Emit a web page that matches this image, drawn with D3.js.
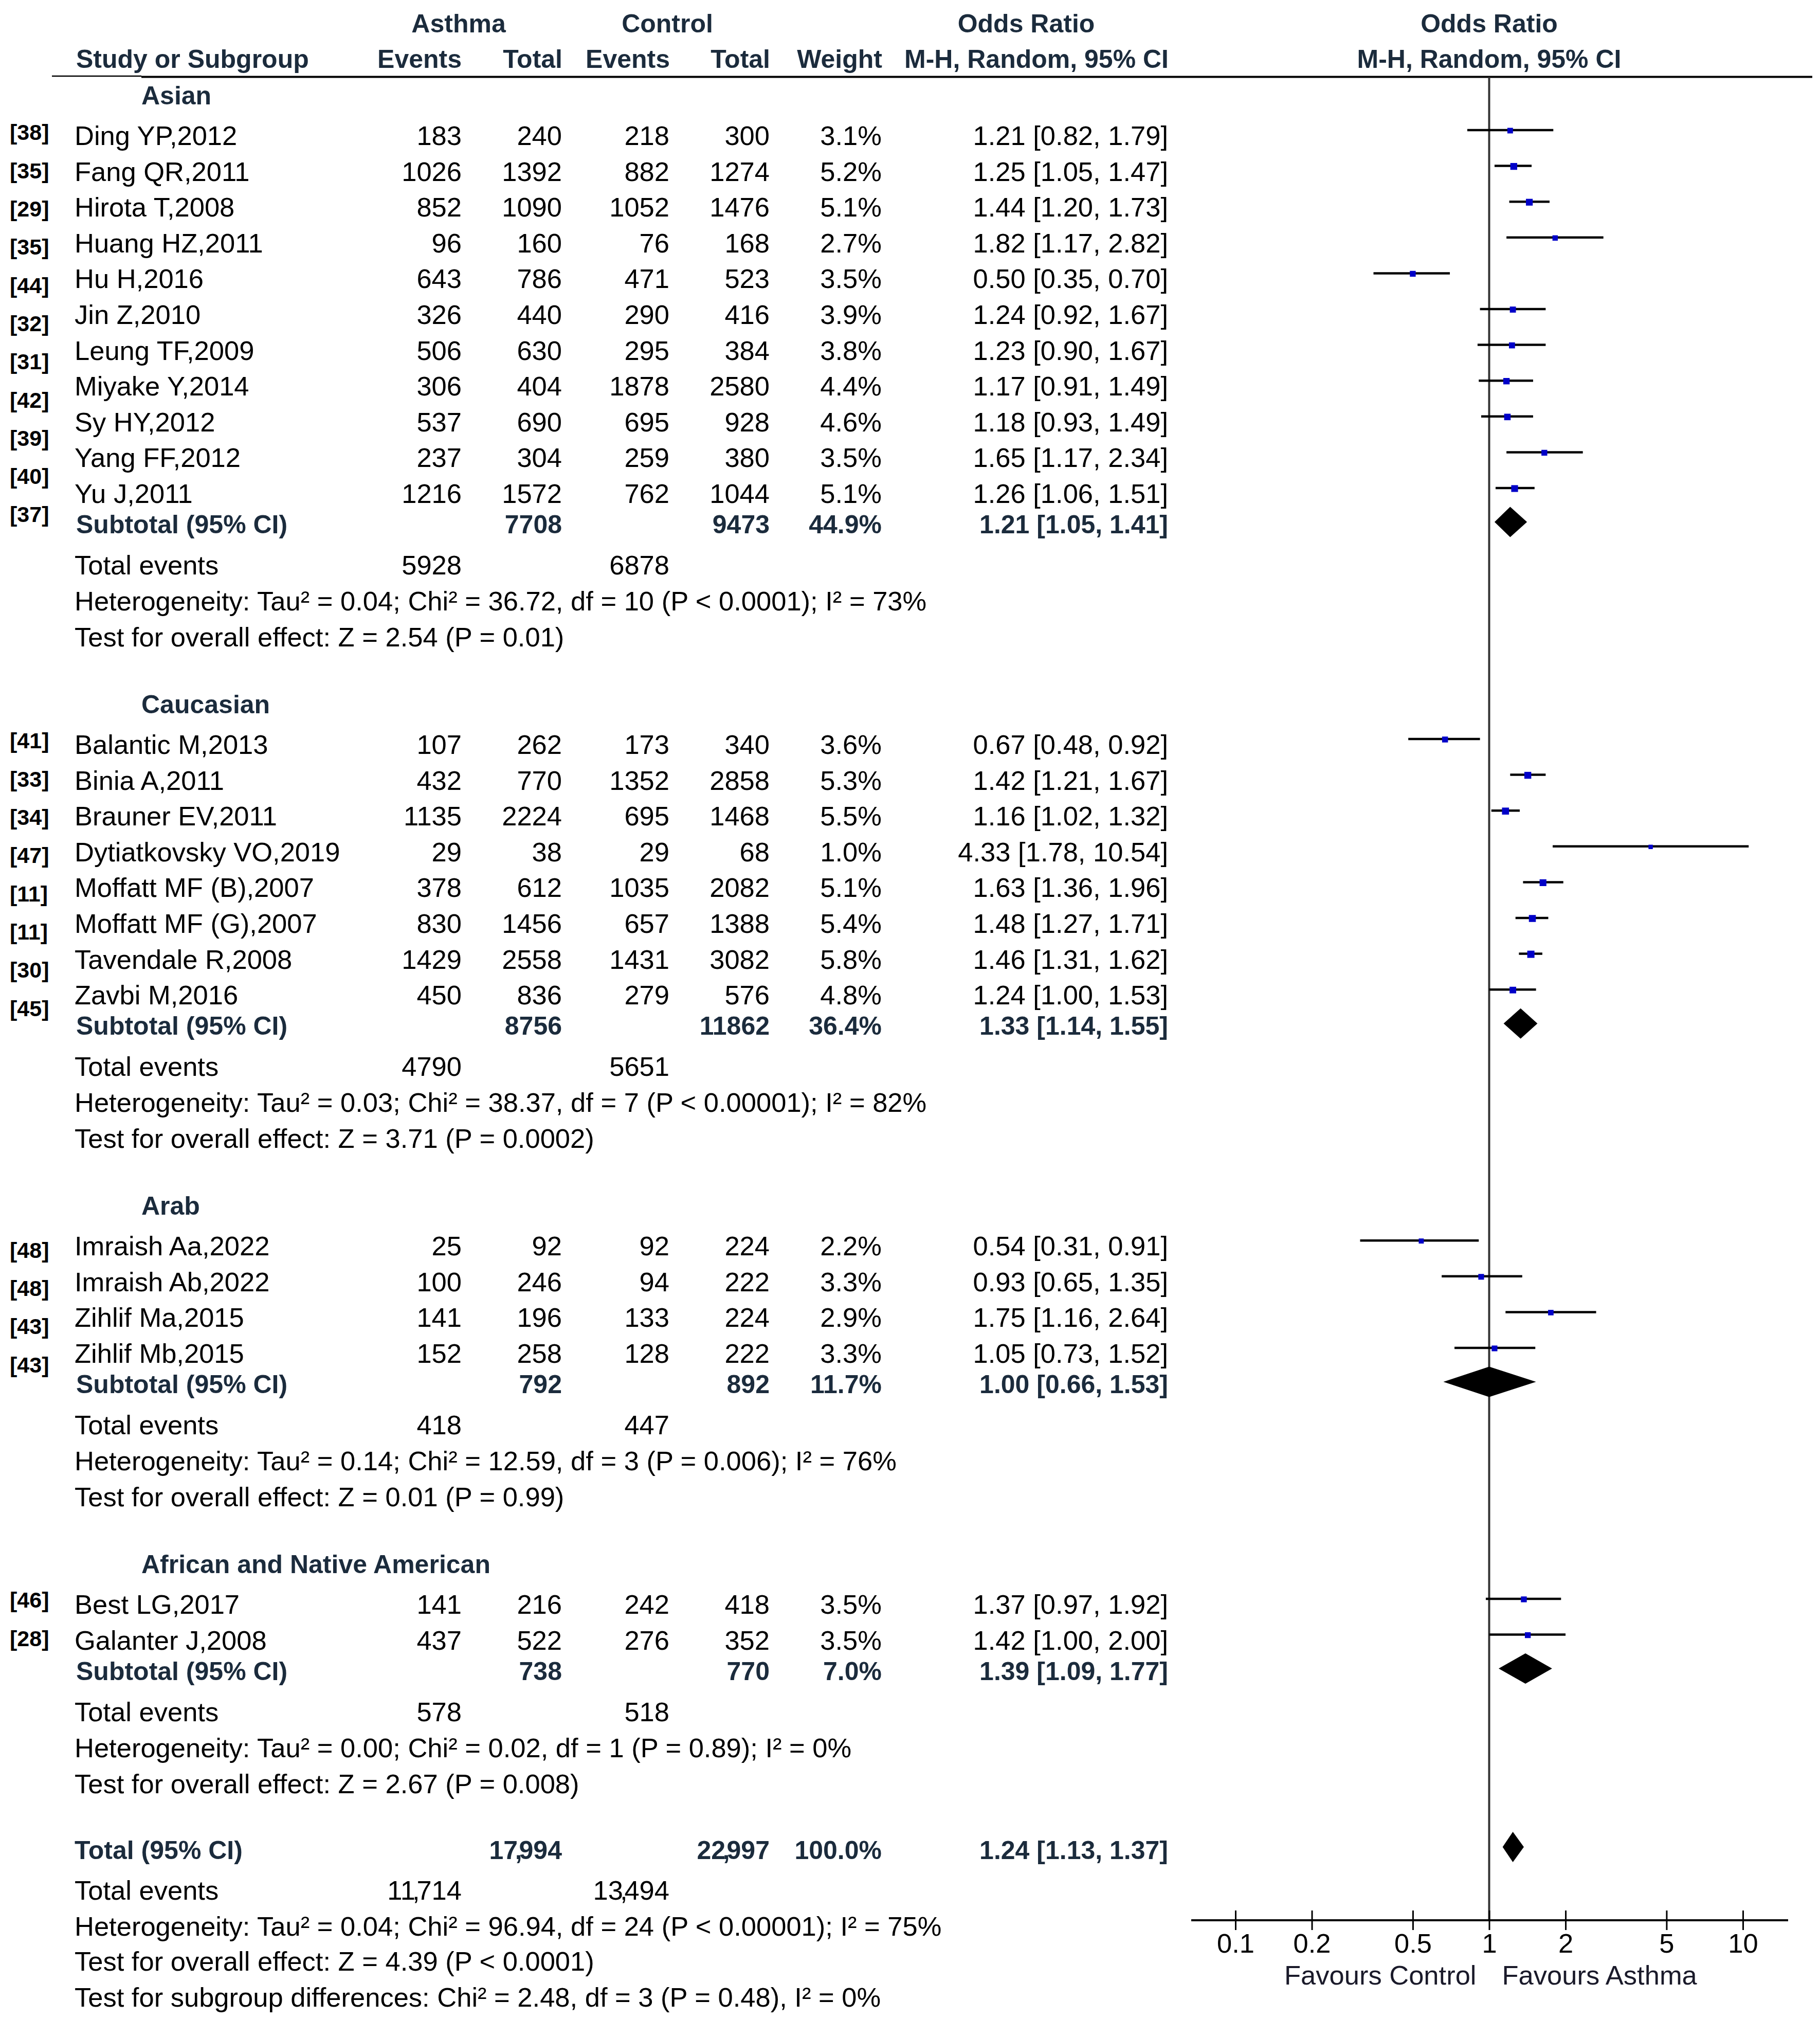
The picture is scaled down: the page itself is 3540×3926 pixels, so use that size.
<!DOCTYPE html>
<html><head><meta charset="utf-8">
<script src="https://cdn.jsdelivr.net/npm/d3@7/dist/d3.min.js"></script>
<style>
body{margin:0;background:#fff}
svg{display:block}
text{font-family:"Liberation Sans",Arial,Helvetica,sans-serif}
</style>
</head><body><div id="chart"></div>
<script>
// ---------------- DATA ----------------
const groups = ["Asian", "Caucasian", "Arab", "African and Native American"];

const studies = [
  "Ding YP,2012","Fang QR,2011","Hirota T,2008","Huang HZ,2011","Hu H,2016","Jin Z,2010",
  "Leung TF,2009","Miyake Y,2014","Sy HY,2012","Yang FF,2012","Yu J,2011",
  "Balantic M,2013","Binia A,2011","Brauner EV,2011","Dytiatkovsky VO,2019",
  "Moffatt MF (B),2007","Moffatt MF (G),2007","Tavendale R,2008","Zavbi M,2016",
  "Imraish Aa,2022","Imraish Ab,2022","Zihlif Ma,2015","Zihlif Mb,2015",
  "Best LG,2017","Galanter J,2008"
];
const studyGroup = [0,0,0,0,0,0,0,0,0,0,0, 1,1,1,1,1,1,1,1, 2,2,2,2, 3,3];
const refs = ["[38]","[35]","[29]","[35]","[44]","[32]","[31]","[42]","[39]","[40]","[37]",
  "[41]","[33]","[34]","[47]","[11]","[11]","[30]","[45]",
  "[48]","[48]","[43]","[43]",
  "[46]","[28]"];
const asthmaEvents = [183,1026,852,96,643,326,506,306,537,237,1216, 107,432,1135,29,378,830,1429,450, 25,100,141,152, 141,437];
const asthmaTotal  = [240,1392,1090,160,786,440,630,404,690,304,1572, 262,770,2224,38,612,1456,2558,836, 92,246,196,258, 216,522];
const controlEvents= [218,882,1052,76,471,290,295,1878,695,259,762, 173,1352,695,29,1035,657,1431,279, 92,94,133,128, 242,276];
const controlTotal = [300,1274,1476,168,523,416,384,2580,928,380,1044, 340,2858,1468,68,2082,1388,3082,576, 224,222,224,222, 418,352];
const weights = [3.1,5.2,5.1,2.7,3.5,3.9,3.8,4.4,4.6,3.5,5.1, 3.6,5.3,5.5,1.0,5.1,5.4,5.8,4.8, 2.2,3.3,2.9,3.3, 3.5,3.5];
const orEst  = [1.21,1.25,1.44,1.82,0.50,1.24,1.23,1.17,1.18,1.65,1.26, 0.67,1.42,1.16,4.33,1.63,1.48,1.46,1.24, 0.54,0.93,1.75,1.05, 1.37,1.42];
const orLow  = [0.82,1.05,1.20,1.17,0.35,0.92,0.90,0.91,0.93,1.17,1.06, 0.48,1.21,1.02,1.78,1.36,1.27,1.31,1.00, 0.31,0.65,1.16,0.73, 0.97,1.00];
const orHigh = [1.79,1.47,1.73,2.82,0.70,1.67,1.67,1.49,1.49,2.34,1.51, 0.92,1.67,1.32,10.54,1.96,1.71,1.62,1.53, 0.91,1.35,2.64,1.52, 1.92,2.00];

const subAsthmaTotal = [7708, 8756, 792, 738];
const subControlTotal = [9473, 11862, 892, 770];
const subWeight = [44.9, 36.4, 11.7, 7.0];
const subOR = [1.21, 1.33, 1.00, 1.39];
const subLow = [1.05, 1.14, 0.66, 1.09];
const subHigh = [1.41, 1.55, 1.53, 1.77];
const subAsthmaEvents = [5928, 4790, 418, 578];
const subControlEvents = [6878, 5651, 447, 518];
const subHeterogeneity = [
  "Heterogeneity: Tau\u00B2 = 0.04; Chi\u00B2 = 36.72, df = 10 (P < 0.0001); I\u00B2 = 73%",
  "Heterogeneity: Tau\u00B2 = 0.03; Chi\u00B2 = 38.37, df = 7 (P < 0.00001); I\u00B2 = 82%",
  "Heterogeneity: Tau\u00B2 = 0.14; Chi\u00B2 = 12.59, df = 3 (P = 0.006); I\u00B2 = 76%",
  "Heterogeneity: Tau\u00B2 = 0.00; Chi\u00B2 = 0.02, df = 1 (P = 0.89); I\u00B2 = 0%"
];
const subEffect = [
  "Test for overall effect: Z = 2.54 (P = 0.01)",
  "Test for overall effect: Z = 3.71 (P = 0.0002)",
  "Test for overall effect: Z = 0.01 (P = 0.99)",
  "Test for overall effect: Z = 2.67 (P = 0.008)"
];

const totalAsthma = 17994, totalControl = 22997, totalWeight = 100.0;
const totalOR = 1.24, totalLow = 1.13, totalHigh = 1.37;
const totalAsthmaEvents = 11714, totalControlEvents = 13494;
const totalFooter = [
  "Heterogeneity: Tau\u00B2 = 0.04; Chi\u00B2 = 96.94, df = 24 (P < 0.00001); I\u00B2 = 75%",
  "Test for overall effect: Z = 4.39 (P < 0.0001)",
  "Test for subgroup differences: Chi\u00B2 = 2.48, df = 3 (P = 0.48), I\u00B2 = 0%"
];
const xTicks = [0.1, 0.2, 0.5, 1, 2, 5, 10];
const favourLabels = ["Favours Control", "Favours Asthma"];

// ---------------- LAYOUT ----------------
const W = 3540, H = 3926;
const FS = 52.5, FS_BOLD = 50, FS_REF = 43;
const BOLD_COL = "#1b2b3c";
const COL = {name:145, sub:148, aEv:898, aTot:1093, cEv:1302, cTot:1497, w:1715, or:2272};

const svg = d3.select("#chart").append("svg").attr("width", W).attr("height", H)
  .style("background", "#fff");

const x = d3.scaleLog().domain([0.1, 10]).range([2403, 3390]);
const boxSize = d3.scaleLinear().domain([1, 5.8]).range([8.5, 14]);

const fmt2 = d3.format(".2f");
const orText = (o, l, h) => `${fmt2(o)} [${fmt2(l)}, ${fmt2(h)}]`;
const wText = w => `${w.toFixed(1)}%`;

function txt(xp, yc, s, opt = {}) {
  const t = svg.append("text")
    .attr("x", xp).attr("y", yc).attr("dy", "0.36em")
    .attr("font-size", opt.size || (opt.bold ? FS_BOLD : FS))
    .attr("font-weight", opt.bold ? "bold" : "normal")
    .attr("fill", opt.fill || (opt.bold ? BOLD_COL : "#000"))
    .attr("text-anchor", opt.anchor || "start");
  t.text(s);
  return t;
}
// number with tight thousands comma
function numTight(xp, yc, v, opt = {}) {
  const s = d3.format(",")(v);
  const parts = s.split(",");
  const t = svg.append("text")
    .attr("x", xp).attr("y", yc).attr("dy", "0.36em")
    .attr("font-size", opt.bold ? FS_BOLD : FS)
    .attr("font-weight", opt.bold ? "bold" : "normal")
    .attr("fill", opt.bold ? BOLD_COL : "#000")
    .attr("text-anchor", "end");
  parts.forEach((p, i) => {
    if (i > 0) t.append("tspan").attr("dx", "-0.11em").text(",");
    t.append("tspan").attr("dx", i > 0 ? "-0.12em" : null).text(p);
  });
}

// Headers
const H1 = 45, H2 = 114;
txt(892, H1, "Asthma", {bold:true, anchor:"middle"});
txt(1298, H1, "Control", {bold:true, anchor:"middle"});
txt(1996, H1, "Odds Ratio", {bold:true, anchor:"middle"});
txt(x(1), H1, "Odds Ratio", {bold:true, anchor:"middle"});
txt(148, H2, "Study or Subgroup", {bold:true});
txt(898, H2, "Events", {bold:true, anchor:"end"});
txt(1094, H2, "Total", {bold:true, anchor:"end"});
txt(1303, H2, "Events", {bold:true, anchor:"end"});
txt(1498, H2, "Total", {bold:true, anchor:"end"});
txt(1716, H2, "Weight", {bold:true, anchor:"end"});
txt(2273, H2, "M-H, Random, 95% CI", {bold:true, anchor:"end"});
txt(x(1), H2, "M-H, Random, 95% CI", {bold:true, anchor:"middle"});

// header rule
svg.append("line").attr("x1", 101).attr("x2", 275).attr("y1", 148).attr("y2", 148)
  .attr("stroke", "#000").attr("stroke-width", 2.5);
svg.append("line").attr("x1", 275).attr("x2", 3525).attr("y1", 149.5).attr("y2", 149.5)
  .attr("stroke", "#000").attr("stroke-width", 4);

// Row positions
const GROUP_TOP = 185, FIRST_GAP = 78, STEP = 69.6, SUB_GAP = 60, TE_GAP = 79, LINE_STEP = 70, NEXT_GAP = 131;
const REF_STEP = 74.3, refOffset = [-6, -7, 8, -8];
const groupY = [], studyY = [], refY = [], subY = [], teY = [], hetY = [], effY = [];
let cy = GROUP_TOP;
groups.forEach((g, gi) => {
  groupY[gi] = cy;
  cy += FIRST_GAP;
  const idx = studyGroup.map((s, i) => s === gi ? i : -1).filter(i => i >= 0);
  idx.forEach((i, k) => { studyY[i] = cy + k * STEP; refY[i] = cy + refOffset[gi] + k * REF_STEP; });
  cy += (idx.length - 1) * STEP + SUB_GAP; subY[gi] = cy;
  cy += TE_GAP; teY[gi] = cy;
  cy += LINE_STEP; hetY[gi] = cy;
  cy += LINE_STEP; effY[gi] = cy;
  cy += NEXT_GAP;
});
const totY = effY[3] + 129;
const totEvY = totY + 78;
const footY = [totEvY + 70, totEvY + 138, totEvY + 208];
const AXIS_Y = 3734;

// vertical line of no effect
svg.append("line").attr("x1", x(1)).attr("x2", x(1)).attr("y1", 150).attr("y2", AXIS_Y)
  .attr("stroke", "#333").attr("stroke-width", 4);

// Groups
groups.forEach((g, gi) => {
  txt(275, groupY[gi], g, {bold:true});
  txt(COL.sub, subY[gi], "Subtotal (95% CI)", {bold:true});
  txt(COL.aTot, subY[gi], String(subAsthmaTotal[gi]), {bold:true, anchor:"end"});
  txt(COL.cTot, subY[gi], String(subControlTotal[gi]), {bold:true, anchor:"end"});
  txt(COL.w, subY[gi], wText(subWeight[gi]), {bold:true, anchor:"end"});
  txt(COL.or, subY[gi], orText(subOR[gi], subLow[gi], subHigh[gi]), {bold:true, anchor:"end"});
  txt(COL.name, teY[gi], "Total events");
  txt(COL.aEv, teY[gi], String(subAsthmaEvents[gi]), {anchor:"end"});
  txt(COL.cEv, teY[gi], String(subControlEvents[gi]), {anchor:"end"});
  txt(COL.name, hetY[gi], subHeterogeneity[gi]);
  txt(COL.name, effY[gi], subEffect[gi]);
});

// Studies
studies.forEach((s, i) => {
  const yc = studyY[i];
  txt(19, refY[i], refs[i], {bold:true, size:FS_REF, fill:"#000"});
  txt(COL.name, yc, s);
  txt(COL.aEv, yc, String(asthmaEvents[i]), {anchor:"end"});
  txt(COL.aTot, yc, String(asthmaTotal[i]), {anchor:"end"});
  txt(COL.cEv, yc, String(controlEvents[i]), {anchor:"end"});
  txt(COL.cTot, yc, String(controlTotal[i]), {anchor:"end"});
  txt(COL.w, yc, wText(weights[i]), {anchor:"end"});
  txt(COL.or, yc, orText(orEst[i], orLow[i], orHigh[i]), {anchor:"end"});
});

// CI lines and boxes
const ciG = svg.append("g");
ciG.selectAll("line.ci").data(studies.map((s, i) => i)).join("line")
  .attr("class", "ci")
  .attr("x1", i => x(orLow[i])).attr("x2", i => x(orHigh[i]))
  .attr("y1", i => studyY[i] - 10).attr("y2", i => studyY[i] - 10)
  .attr("stroke", "#000").attr("stroke-width", 4.5);
ciG.selectAll("rect.box").data(studies.map((s, i) => i)).join("rect")
  .attr("class", "box")
  .attr("x", i => x(orEst[i]) - boxSize(weights[i]) / 2)
  .attr("y", i => studyY[i] - 9 - boxSize(weights[i]) / 2)
  .attr("width", i => boxSize(weights[i])).attr("height", i => boxSize(weights[i]))
  .attr("fill", "#0000c8");

// Diamonds
function diamond(o, l, h, yc) {
  const hh = 29.5;
  return `M${x(l)},${yc} L${x(o)},${yc - hh} L${x(h)},${yc} L${x(o)},${yc + hh} Z`;
}
svg.append("g").selectAll("path").data(groups.map((g, i) => i)).join("path")
  .attr("d", gi => diamond(subOR[gi], subLow[gi], subHigh[gi], subY[gi] - 4))
  .attr("fill", "#000");

// Totals
txt(COL.name, totY, "Total (95% CI)", {bold:true});
numTight(COL.aTot, totY, totalAsthma, {bold:true});
numTight(COL.cTot, totY, totalControl, {bold:true});
txt(COL.w, totY, wText(totalWeight), {bold:true, anchor:"end"});
txt(COL.or, totY, orText(totalOR, totalLow, totalHigh), {bold:true, anchor:"end"});
svg.append("path").attr("d", diamond(totalOR, totalLow, totalHigh, totY - 5)).attr("fill", "#000");
txt(COL.name, totEvY, "Total events");
numTight(COL.aEv, totEvY, totalAsthmaEvents);
numTight(COL.cEv, totEvY, totalControlEvents);
totalFooter.forEach((s, k) => txt(COL.name, footY[k], s));

// Axis
const axisG = svg.append("g").attr("transform", `translate(0,${AXIS_Y})`)
  .call(d3.axisBottom(x).tickValues(xTicks).tickFormat(d => String(d)).tickSize(19).tickPadding(10));
axisG.select(".domain").remove();
axisG.append("line").attr("x1", 2317).attr("x2", 3478).attr("y1", 0).attr("y2", 0)
  .attr("stroke", "#000").attr("stroke-width", 4);
axisG.selectAll(".tick line").attr("y1", -19).attr("y2", 19).attr("stroke", "#000").attr("stroke-width", 3);
axisG.selectAll(".tick text").attr("y", 44).attr("dy", "0.36em")
  .attr("font-size", FS).attr("fill", "#000")
  .attr("font-family", "'Liberation Sans', Arial, sans-serif");

txt(x(1) - 25, 3840, favourLabels[0], {anchor:"end", fill:"#1a1a2a"});
txt(x(1) + 25, 3840, favourLabels[1], {anchor:"start", fill:"#1a1a2a"});
</script>
</body></html>
